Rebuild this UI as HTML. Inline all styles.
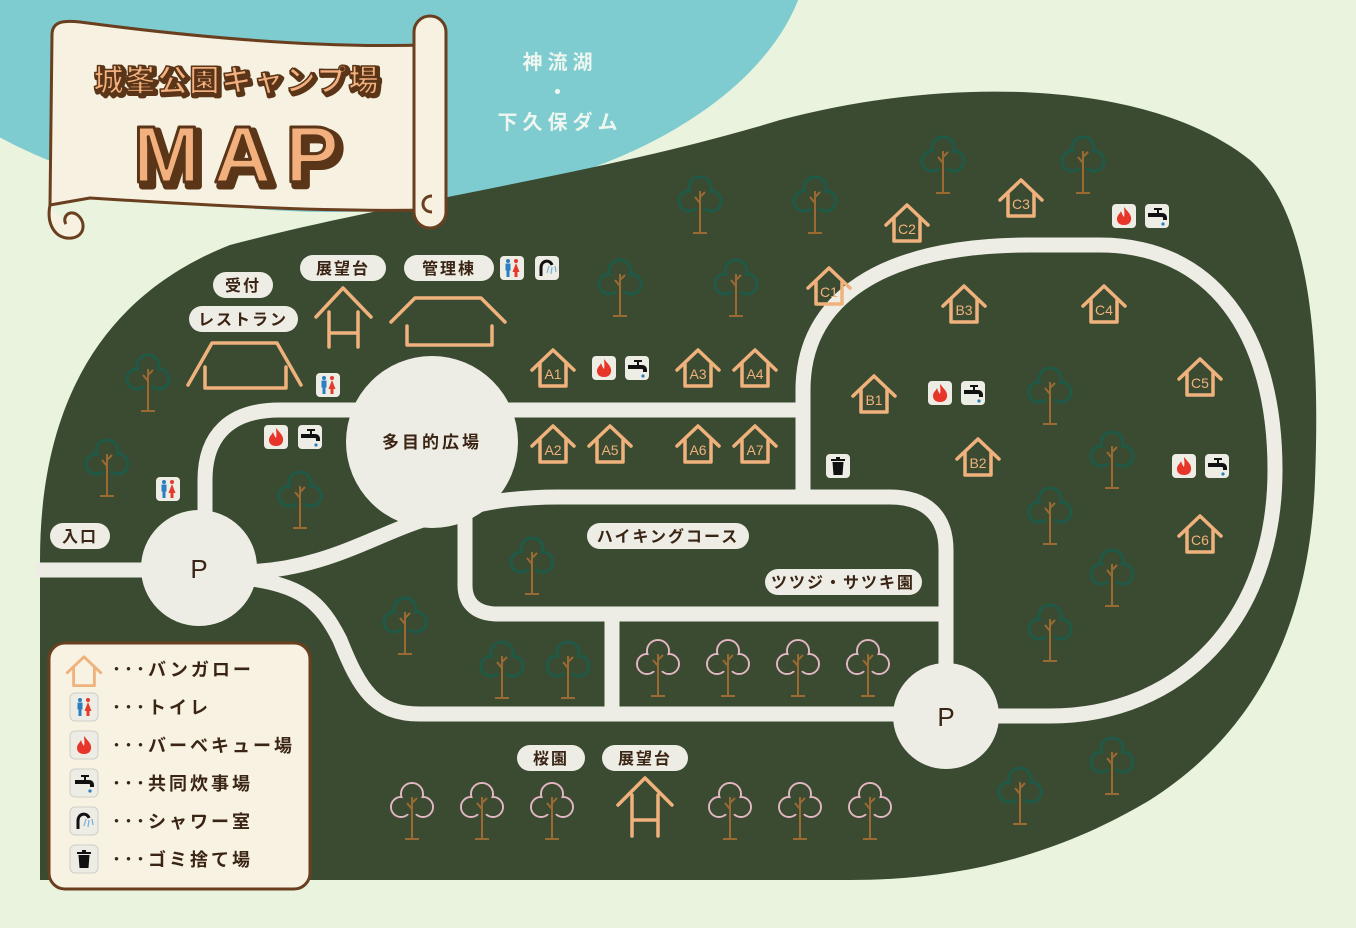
<!DOCTYPE html>
<html><head><meta charset="utf-8"><style>
html,body{margin:0;padding:0;background:#e9f3de;}
svg{display:block;}
text{font-family:"Liberation Sans","Noto Sans CJK JP",sans-serif;}
</style></head><body>
<svg width="1356" height="928" viewBox="0 0 1356 928" xmlns="http://www.w3.org/2000/svg">
<defs>
<g id="tree">
 <g fill="none" stroke="#1e5a47" stroke-width="3">
  <circle cx="0" cy="-9" r="11"/><circle cx="-11" cy="4" r="10"/><circle cx="11" cy="4" r="10"/>
 </g>
 <g fill="#3b4b32"><circle cx="0" cy="-9" r="9.5"/><circle cx="-11" cy="4" r="8.5"/><circle cx="11" cy="4" r="8.5"/><circle cx="0" cy="2" r="10"/></g>
 <g stroke="#9b6a32" stroke-width="2" fill="none"><path d="M0,-6 V36 M-7,36 H7 M0,6 L-5,0 M0,0 L5,-5"/></g>
</g>
<g id="sak">
 <g fill="none" stroke="#e2b6c2" stroke-width="2">
  <circle cx="0" cy="-9" r="11"/><circle cx="-11" cy="4" r="10"/><circle cx="11" cy="4" r="10"/>
 </g>
 <g fill="#3b4b32"><circle cx="0" cy="-9" r="10"/><circle cx="-11" cy="4" r="9"/><circle cx="11" cy="4" r="9"/><circle cx="0" cy="2" r="10"/></g>
 <g stroke="#9b6a32" stroke-width="2" fill="none"><path d="M0,-6 V36 M-7,36 H7 M0,6 L-5,0 M0,0 L5,-5"/></g>
</g>
<g id="house" fill="none" stroke="#f0b27c" stroke-width="3.5" stroke-linecap="round" stroke-linejoin="round">
 <path d="M-21,-4 L0,-24 L21,-4"/><path d="M-13,-10 V12 H13 V-10"/>
</g>
<g id="box"><rect x="-12" y="-12" width="24" height="24" rx="4" fill="#eeede5"/></g>
<g id="fire"><use href="#box"/><path d="M0,-9 C4,-4 8,-1 7,4 C6,8 3,9 0,9 C-4,9 -7,7 -7,3 C-7,-1 -4,-2 -3,-5 C-2,-2 -1,0 0,1 C1,-3 0,-6 0,-9Z" fill="#e8352a"/></g>
<g id="tap"><use href="#box"/><path d="M-9,-3 h9 v-3 h-3 v-2 h8 v2 h-3 v3 h3 c3,0 5,2 5,5 v2 h-4 v-2 c0,-1 -1,-1 -1,-1 h-14 z" fill="#111"/><circle cx="6" cy="8" r="1.6" fill="#2a7fc0"/></g>
<g id="wc"><use href="#box"/><g fill="#2a7fc0"><circle cx="-4" cy="-7" r="2"/><rect x="-6.5" y="-4.5" width="5" height="7"/><rect x="-5.5" y="2" width="3" height="7"/></g><g fill="#e33a2c"><circle cx="4" cy="-7" r="2"/><path d="M0.5,4 L4,-5 L7.5,4Z"/><rect x="2.5" y="3" width="3" height="6"/></g></g>
<g id="shw"><use href="#box"/><path d="M-6,8 V0 C-6,-8 3,-9 5,-3" fill="none" stroke="#111" stroke-width="3"/><path d="M2,-2 L0,5 M5,-1 L4,6 M8,-2 L9,4" stroke="#7fb2d8" stroke-width="1.3"/></g>
<g id="trash"><use href="#box"/><rect x="-7" y="-7" width="14" height="2" fill="#111"/><rect x="-2" y="-9" width="4" height="2" fill="#111"/><path d="M-5.5,-4 H5.5 L4.5,9 H-4.5Z" fill="#111"/></g>
<g id="lbox"><rect x="-14" y="-14" width="28" height="28" rx="5" fill="#eeede5" stroke="#cfcfc8" stroke-width="1"/></g>
</defs>

<rect width="1356" height="928" fill="#e9f3de"/>
<ellipse cx="330" cy="-60" rx="480" ry="272" fill="#7ecbd0"/>
<path d="M40,880 L40,560 C40,420 90,300 230,245 C400,200 600,175 780,120 C950,75 1150,80 1250,160 C1312,215 1320,350 1315,480 C1310,620 1260,730 1150,800 C1050,860 950,880 850,880 Z" fill="#3b4b32"/>

<g fill="none" stroke="#eeede5" stroke-width="15" stroke-linejoin="round">
 <path d="M36,570 L160,570"/>
 <path d="M205,520 L205,480 C205,435 230,410 280,410 L380,410"/>
 <path d="M480,410 L806,410"/>
 <path d="M803,490 L803,390 C803,300 880,245 1030,245 L1100,245 C1210,245 1275,330 1275,470 C1275,620 1180,716 1050,716 L990,716"/>
 <path d="M245,572 C330,570 380,530 440,515 C480,503 510,497 560,497 L890,497 C925,497 946,515 946,550 L946,680"/>
 <path d="M465,505 L465,585 C465,605 478,614 498,614 L946,614"/>
 <path d="M612,614 L612,714"/>
 <path d="M245,578 C300,585 320,600 340,640 C360,690 375,714 420,714 L910,714"/>
</g>
<circle cx="199" cy="568" r="58" fill="#eeede5"/>
<circle cx="432" cy="442" r="86" fill="#eeede5"/>
<circle cx="946" cy="716" r="53" fill="#eeede5"/>
<g font-size="26" fill="#3a2414" text-anchor="middle"><text x="199" y="578">P</text><text x="946" y="726">P</text></g>
<text x="432" y="448" font-size="17" font-weight="bold" fill="#3a2414" text-anchor="middle" letter-spacing="3">多目的広場</text>

<g>
<use href="#tree" x="700" y="197"/><use href="#tree" x="815" y="197"/><use href="#tree" x="943" y="157"/><use href="#tree" x="1083" y="157"/>
<use href="#tree" x="620" y="280"/><use href="#tree" x="736" y="280"/>
<use href="#tree" x="148" y="375"/><use href="#tree" x="107" y="460"/><use href="#tree" x="300" y="492"/>
<use href="#tree" x="532" y="558"/><use href="#tree" x="405" y="618"/><use href="#tree" x="502" y="662"/><use href="#tree" x="568" y="662"/>
<use href="#tree" x="1050" y="388"/><use href="#tree" x="1112" y="452"/><use href="#tree" x="1050" y="508"/><use href="#tree" x="1112" y="570"/><use href="#tree" x="1050" y="625"/>
<use href="#tree" x="1112" y="758"/><use href="#tree" x="1020" y="788"/>
<use href="#sak" x="658" y="660"/><use href="#sak" x="728" y="660"/><use href="#sak" x="798" y="660"/><use href="#sak" x="868" y="660"/>
<use href="#sak" x="412" y="803"/><use href="#sak" x="482" y="803"/><use href="#sak" x="552" y="803"/><use href="#sak" x="730" y="803"/><use href="#sak" x="800" y="803"/><use href="#sak" x="870" y="803"/>
</g>

<g fill="none" stroke="#f0b27c" stroke-width="3.5" stroke-linecap="round" stroke-linejoin="round">
 <path d="M188,385 L212,343 L277,343 L301,385"/><path d="M205,367 V388 H286 V367"/>
 <path d="M316,317 L343,288 L371,317"/><path d="M329,312 V347 M358,312 V347 M329,333 H358"/>
 <path d="M391,322 L415,298 L481,298 L505,322"/><path d="M407,326 V345 H492 V326"/>
 <path d="M618,805 L645,778 L672,805"/><path d="M632,795 V836 M658,795 V836 M632,820 H658"/>
</g>

<g font-size="14" fill="#f0b27c" text-anchor="middle">
<g transform="translate(553,374)"><use href="#house"/><text y="5">A1</text></g>
<g transform="translate(698,374)"><use href="#house"/><text y="5">A3</text></g>
<g transform="translate(755,374)"><use href="#house"/><text y="5">A4</text></g>
<g transform="translate(553,450)"><use href="#house"/><text y="5">A2</text></g>
<g transform="translate(610,450)"><use href="#house"/><text y="5">A5</text></g>
<g transform="translate(698,450)"><use href="#house"/><text y="5">A6</text></g>
<g transform="translate(755,450)"><use href="#house"/><text y="5">A7</text></g>
<g transform="translate(874,400)"><use href="#house"/><text y="5">B1</text></g>
<g transform="translate(964,310)"><use href="#house"/><text y="5">B3</text></g>
<g transform="translate(1104,310)"><use href="#house"/><text y="5">C4</text></g>
<g transform="translate(978,463)"><use href="#house"/><text y="5">B2</text></g>
<g transform="translate(829,292)"><use href="#house"/><text y="5">C1</text></g>
<g transform="translate(907,229)"><use href="#house"/><text y="5">C2</text></g>
<g transform="translate(1021,204)"><use href="#house"/><text y="5">C3</text></g>
<g transform="translate(1200,383)"><use href="#house"/><text y="5">C5</text></g>
<g transform="translate(1200,540)"><use href="#house"/><text y="5">C6</text></g>
</g>

<use href="#wc" x="512" y="268"/><use href="#shw" x="547" y="268"/>
<use href="#wc" x="328" y="385"/><use href="#wc" x="168" y="489"/>
<use href="#fire" x="276" y="437"/><use href="#tap" x="310" y="437"/>
<use href="#fire" x="604" y="368"/><use href="#tap" x="637" y="368"/>
<use href="#fire" x="940" y="393"/><use href="#tap" x="973" y="393"/>
<use href="#trash" x="838" y="466"/>
<use href="#fire" x="1124" y="216"/><use href="#tap" x="1157" y="216"/>
<use href="#fire" x="1184" y="466"/><use href="#tap" x="1217" y="466"/>

<g fill="#eeede5">
 <rect x="213" y="272" width="60" height="26" rx="13"/>
 <rect x="189" y="306" width="109" height="26" rx="13"/>
 <rect x="300" y="255" width="86" height="26" rx="13"/>
 <rect x="404" y="255" width="90" height="26" rx="13"/>
 <rect x="50" y="523" width="60" height="26" rx="13"/>
 <rect x="587" y="523" width="162" height="26" rx="13"/>
 <rect x="765" y="569" width="157" height="26" rx="13"/>
 <rect x="517" y="745" width="68" height="26" rx="13"/>
 <rect x="602" y="745" width="86" height="26" rx="13"/>
</g>
<g font-size="16" font-weight="bold" fill="#3a2414" text-anchor="middle" letter-spacing="2">
 <text x="243" y="291">受付</text>
 <text x="243" y="325">レストラン</text>
 <text x="343" y="274">展望台</text>
 <text x="449" y="274">管理棟</text>
 <text x="80" y="542">入口</text>
 <text x="668" y="542">ハイキングコース</text>
 <text x="843" y="588">ツツジ・サツキ園</text>
 <text x="551" y="764">桜園</text>
 <text x="645" y="764">展望台</text>
</g>

<g font-size="20" font-weight="bold" fill="#eef6f0" text-anchor="middle" letter-spacing="5">
 <text x="560" y="69">神流湖</text><text x="560" y="99">・</text><text x="560" y="129">下久保ダム</text>
</g>

<g stroke="#6a3f1f" stroke-width="3" fill="#f6f1e0" stroke-linejoin="round">
 <path d="M50,205 C46,225 56,240 72,238 C86,236 86,220 76,214 C68,210 62,218 66,224"/>
 <path d="M52,35 C52,22 62,20 80,22 C200,38 320,48 425,45 L430,210 C320,212 200,205 90,198 L50,205 Z"/>
 <rect x="414" y="16" width="32" height="212" rx="16"/>
 <path d="M432,212 C420,212 420,196 432,196"/>
</g>
<g text-anchor="middle" font-weight="bold" stroke-linejoin="round">
 <text x="239" y="93" font-size="30" fill="#5a3518" stroke="#5a3518" stroke-width="5" letter-spacing="2">城峯公園キャンプ場</text>
 <text x="237" y="91" font-size="30" fill="#f2b07e" stroke="#5a3518" stroke-width="1.5" letter-spacing="2">城峯公園キャンプ場</text>
 <text x="247" y="186" font-size="80" fill="#5a3518" stroke="#5a3518" stroke-width="7" letter-spacing="14">MAP</text>
 <text x="243" y="182" font-size="80" fill="#f2b07e" stroke="#5a3518" stroke-width="3" letter-spacing="14">MAP</text>
</g>

<rect x="49" y="643" width="261" height="246" rx="16" fill="#f7f2e2" stroke="#6a3f1f" stroke-width="3"/>
<g transform="translate(84,676) scale(0.8)"><use href="#house"/></g>
<g transform="translate(84,707)"><use href="#lbox"/><use href="#wc"/></g>
<g transform="translate(84,745)"><use href="#lbox"/><use href="#fire"/></g>
<g transform="translate(84,783)"><use href="#lbox"/><use href="#tap"/></g>
<g transform="translate(84,821)"><use href="#lbox"/><use href="#shw"/></g>
<g transform="translate(84,859)"><use href="#lbox"/><use href="#trash"/></g>
<g font-size="18" font-weight="bold" fill="#3a2414" letter-spacing="3">
 <text x="112" y="676">･･･バンガロー</text>
 <text x="112" y="714">･･･トイレ</text>
 <text x="112" y="752">･･･バーベキュー場</text>
 <text x="112" y="790">･･･共同炊事場</text>
 <text x="112" y="828">･･･シャワー室</text>
 <text x="112" y="866">･･･ゴミ捨て場</text>
</g>
</svg>
</body></html>
